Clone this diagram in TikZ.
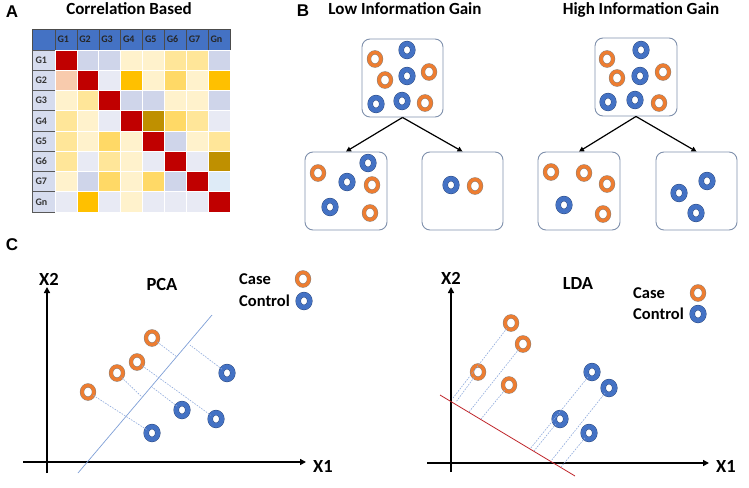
\documentclass[tikz,border=0pt]{standalone}
\usepackage{fontspec}
\setmainfont{Carlito}
\newfontfamily\letterfont{Liberation Sans}
\usetikzlibrary{arrows.meta,shapes.geometric}
\definecolor{orgC}{HTML}{ED7D31}
\definecolor{bluC}{HTML}{4472C4}
\definecolor{boxC}{HTML}{7F90AC}
\definecolor{projC}{HTML}{8FAADC}
\definecolor{pcaC}{HTML}{7F9FD6}
\definecolor{ldaC}{HTML}{C0282D}
\definecolor{hR}{HTML}{C00000}
\definecolor{hP}{HTML}{F8CBAD}
\definecolor{hL}{HTML}{CFD5EA}
\definecolor{hV}{HTML}{E8EAF4}
\definecolor{hPY}{HTML}{FFF2CC}
\definecolor{hLY}{HTML}{FFE699}
\definecolor{hY}{HTML}{FFD966}
\definecolor{hG}{HTML}{FFC000}
\definecolor{hD}{HTML}{BF9000}
\definecolor{hB}{HTML}{DEEBF7}
\definecolor{rowC}{HTML}{D6DCEE}
\tikzset{
  cell/.style={rectangle, draw=white, line width=0.6pt, minimum width=21.875pt, minimum height=20.25pt, inner sep=0pt},
  hdr/.style={rectangle, fill=bluC, draw=black!70, line width=0.4pt, minimum width=21.875pt, minimum height=21pt, inner xsep=2.5pt, inner ysep=0pt, text width=16.875pt, align=left, font=\bfseries\fontsize{10}{11}\selectfont, text=black!85},
  rowlab/.style={rectangle, fill=rowC, draw=black!65, line width=0.8pt, minimum width=23pt, minimum height=20.25pt, inner xsep=3.5pt, inner ysep=0pt, text width=16pt, align=left, font=\bfseries\fontsize{10}{11}\selectfont, text=black!80},
  sbox/.style={rectangle, draw=boxC, line width=0.9pt, rounded corners=8pt, minimum width=81pt, minimum height=78pt, inner sep=0pt},
  arr/.style={-{Triangle[length=5pt,width=5pt]}, line width=1.2pt, black},
  ringO/.style={ellipse, inner sep=0pt, minimum width=12pt, minimum height=13.2pt, draw=black!50, line width=0.4pt, double=orgC, double distance=3.4pt, fill=white},
  ringB/.style={ellipse, inner sep=0pt, minimum width=11.6pt, minimum height=12.8pt, draw=bluC!60!black, line width=0.4pt, double=bluC, double distance=4.6pt, fill=white},
  axis/.style={line width=2pt, -{Triangle[length=6pt,width=6pt]}},
  proj/.style={draw=projC, line width=0.6pt, dash pattern=on 1.6pt off 1.2pt},
  panel/.style={font=\letterfont\bfseries\fontsize{17}{18}\selectfont, anchor=base, inner sep=0pt},
  ttl/.style={font=\bfseries\fontsize{17}{18}\selectfont, anchor=base, inner sep=0pt},
  lbl/.style={font=\bfseries\fontsize{18.5}{19}\selectfont, anchor=base, inner sep=0pt},
  leg/.style={font=\bfseries\fontsize{16.5}{17}\selectfont, anchor=base west, inner sep=0pt}
}
\begin{document}
\begin{tikzpicture}[x=1pt,y=-1pt]
\useasboundingbox (0,0) rectangle (749,487);
% ---------- Panel A ----------
\node[panel] (lA) at (12,18) {A};
\node[ttl] (tA) at (129,15) {Correlation Based};
\node[hdr, minimum width=23pt, text width=18pt] (corner) at (43.5,39.5) {};
\foreach \t [count=\j] in {G1,G2,G3,G4,G5,G6,G7,Gn} {
  \node[hdr] (hdr-\j) at ({55+(\j-0.5)*21.875},39.5) {\t};
  \node[rowlab] (rl-\j) at (43.5,{50+(\j-0.5)*20.25}) {\t};
}
\foreach \rowlist [count=\i] in {
  {hR,hL,hL,hPY,hPY,hLY,hLY,hL},
  {hP,hR,hV,hG,hPY,hY,hPY,hG},
  {hPY,hLY,hR,hL,hL,hPY,hPY,hL},
  {hLY,hPY,hV,hR,hD,hY,hLY,hV},
  {hLY,hPY,hY,hPY,hR,hL,hPY,hLY},
  {hLY,hV,hLY,hPY,hV,hR,hV,hD},
  {hPY,hL,hY,hPY,hY,hL,hR,hB},
  {hV,hG,hV,hPY,hV,hV,hV,hR}} {
  \foreach \c [count=\j] in \rowlist {
    \node[cell, fill=\c] (cell-\i-\j) at ({55+(\j-0.5)*21.875},{50+(\i-0.5)*20.25}) {};
  }
}
% ---------- Panel B ----------
\node[panel] (lB) at (303,17) {B};
\node[ttl] (tB1) at (405,15) {Low Information Gain};
\node[ttl] (tB2) at (641,15) {High Information Gain};
\node[sbox] (topL) at (402.5,78) {};
\node[sbox, minimum width=82pt] (blL) at (346,191) {};
\node[sbox] (brL) at (462.5,191) {};
\node[sbox, minimum width=82pt] (topR) at (636,77) {};
\node[sbox, minimum width=82pt] (blR) at (579,191) {};
\node[sbox] (brR) at (696.5,191) {};
\draw[arr] (topL.south) -- (blL.north);
\draw[arr] (topL.south) -- (brL.north);
\draw[arr] (topR.south) -- (blR.north);
\draw[arr] (topR.south) -- (brR.north);
% circles low gain top
\node[ringO] (a1) at (375,59) {};
\node[ringB] (a2) at (407,50) {};
\node[ringO] (a3) at (385,80) {};
\node[ringB] (a4) at (407,76) {};
\node[ringO] (a5) at (429,72) {};
\node[ringB] (a6) at (376,104) {};
\node[ringB] (a7) at (402,101) {};
\node[ringO] (a8) at (425,103) {};
% low gain children
\node[ringO] (b1) at (318,173) {};
\node[ringB] (b2) at (347,182) {};
\node[ringB] (b3) at (368,163) {};
\node[ringO] (b4) at (372,185) {};
\node[ringB] (b5) at (330,207) {};
\node[ringO] (b6) at (370,213) {};
\node[ringB] (c1) at (451,185) {};
\node[ringO] (c2) at (475,186) {};
% high gain top
\node[ringO] (d1) at (607,59) {};
\node[ringB] (d2) at (641,50) {};
\node[ringO] (d3) at (617,78) {};
\node[ringB] (d4) at (640,76) {};
\node[ringO] (d5) at (663,72) {};
\node[ringB] (d6) at (608,102) {};
\node[ringB] (d7) at (635,100) {};
\node[ringO] (d8) at (659,103) {};
% high gain children
\node[ringO] (e1) at (551,172) {};
\node[ringO] (e2) at (584,173) {};
\node[ringO] (e3) at (607,184) {};
\node[ringB] (e4) at (564,205) {};
\node[ringO] (e5) at (603,214) {};
\node[ringB] (f1) at (707,181) {};
\node[ringB] (f2) at (679,193) {};
\node[ringB] (f3) at (696,213) {};
% ---------- Panel C : PCA ----------
\node[panel] (lC) at (12,250) {C};
\coordinate (pY0) at (47,473);
\coordinate (pY1) at (47,287);
\coordinate (pX0) at (23,462);
\coordinate (pX1) at (306,462);
\draw[axis] (pY0) -- (pY1);
\draw[axis] (pX0) -- (pX1);
\node[lbl] (pX2l) at (49,285) {X2};
\node[lbl] (pX1l) at (323,472) {X1};
\node[lbl] (pcal) at (162,290) {PCA};
\node[leg] (pcase) at (239,284) {Case};
\node[leg] (pctrl) at (239,306) {Control};
\node[ringO] (pLo) at (303,279) {};
\node[ringB] (pLb) at (304,301) {};
\coordinate (pcaA) at (78,473);
\coordinate (pcaB) at (212,315);
\draw[pcaC, line width=0.7pt] (pcaA) -- (pcaB);
\coordinate (q1) at (177,357);
\coordinate (q2) at (190,345);
\coordinate (q3) at (142,397);
\coordinate (q4) at (152,387);
\node[ringO] (pO1) at (152,338) {};
\node[ringO] (pO2) at (137,362) {};
\node[ringO] (pO3) at (117,373) {};
\node[ringO] (pO4) at (88,392) {};
\node[ringB] (pB1) at (227,373) {};
\node[ringB] (pB2) at (182,410) {};
\node[ringB] (pB3) at (216,419) {};
\node[ringB] (pB4) at (152,433) {};
\draw[proj] (pO1) -- (q1);
\draw[proj] (pB1) -- (q2);
\draw[proj] (pO2) -- (pB3);
\draw[proj] (pO3) -- (q3);
\draw[proj] (pB2) -- (q4);
\draw[proj] (pO4) -- (pB4);
% ---------- Panel C : LDA ----------
\coordinate (lY0) at (451,472);
\coordinate (lY1) at (451,287);
\coordinate (lX0) at (427,463);
\coordinate (lX1) at (709,463);
\draw[axis] (lY0) -- (lY1);
\draw[axis] (lX0) -- (lX1);
\node[lbl] (lX2l) at (451,284) {X2};
\node[lbl] (lX1l) at (726,472) {X1};
\node[lbl] (ldal) at (578,289) {LDA};
\node[leg] (lcase) at (633,298) {Case};
\node[leg] (lctrl) at (633,319) {Control};
\node[ringO] (lLo) at (698,293) {};
\node[ringB] (lLb) at (698,314) {};
\coordinate (ldaA) at (440,395);
\coordinate (ldaB) at (575,476);
\draw[ldaC, line width=0.8pt] (ldaA) -- (ldaB);
\coordinate (r1) at (453,398);
\coordinate (r2) at (469,412);
\coordinate (r3) at (456,402);
\coordinate (r4) at (481,419);
\coordinate (r5) at (530,449);
\coordinate (r6) at (551,461);
\coordinate (r7) at (534,451);
\coordinate (r8) at (561,467);
\node[ringO] (lO1) at (511,323) {};
\node[ringO] (lO2) at (523,344) {};
\node[ringO] (lO3) at (478,372) {};
\node[ringO] (lO4) at (509,385) {};
\node[ringB] (lB1) at (592,372) {};
\node[ringB] (lB2) at (609,388) {};
\node[ringB] (lB3) at (560,419) {};
\node[ringB] (lB4) at (589,433) {};
\draw[proj] (lO1) -- (r1);
\draw[proj] (lO2) -- (r2);
\draw[proj] (lO3) -- (r3);
\draw[proj] (lO4) -- (r4);
\draw[proj] (lB1) -- (r5);
\draw[proj] (lB2) -- (r6);
\draw[proj] (lB3) -- (r7);
\draw[proj] (lB4) -- (r8);
\end{tikzpicture}
\end{document}
